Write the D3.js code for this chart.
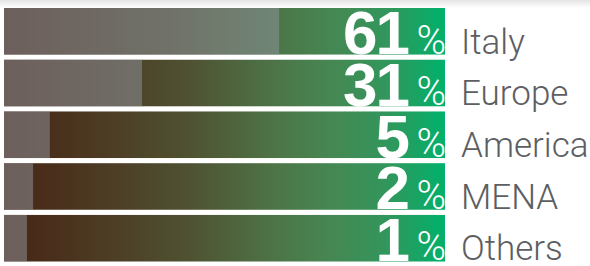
<!doctype html>
<html lang="en">
<head>
    <meta charset="utf-8">
    <title>Share by region</title>
    <style>
        html, body {
            margin: 0;
            padding: 0;
            background: #fff;
        }
        svg {
            display: block;
        }
    </style>
</head>
<body>
    <svg width="590" height="266"></svg>

    <script src="https://d3js.org/d3.v7.min.js"></script>
    <script>
        // data
        var regions = ["Italy", "Europe", "America", "MENA", "Others"];
        var share = [61, 31, 5, 2, 1];
        // grey overlay length, in % of the full bar
        var greyShare = [62.4, 31.3, 10.4, 6.6, 5.2];

        var svg = d3.select("svg"),
            width = +svg.attr("width"),
            height = +svg.attr("height");

        var x = d3.scaleLinear().domain([0, 100]).range([4, 445]);
        var y = d3.scaleBand().domain(regions).range([8, 261.5]).paddingInner(0.1);

        var defs = svg.append("defs");

        var grad = defs.append("linearGradient")
            .attr("id", "barGrad")
            .attr("gradientUnits", "userSpaceOnUse")
            .attr("x1", x(0)).attr("x2", x(100))
            .attr("y1", 0).attr("y2", 0);
        [
            [0, "#472414"],
            [0.25, "#4d3e25"],
            [0.42, "#4f5232"],
            [0.62, "#4d7548"],
            [0.75, "#458853"],
            [0.88, "#2f985d"],
            [1, "#00b16b"]
        ].forEach(function(s) {
            grad.append("stop").attr("offset", s[0]).attr("stop-color", s[1]);
        });

        var shade = defs.append("linearGradient")
            .attr("id", "topShade")
            .attr("x1", 0).attr("x2", 0).attr("y1", 0).attr("y2", 1);
        shade.append("stop").attr("offset", 0).attr("stop-color", "#e4e4e4");
        shade.append("stop").attr("offset", 1).attr("stop-color", "#ffffff");

        // faint shadow along the top edge
        svg.append("rect")
            .attr("x", 0).attr("y", 0)
            .attr("width", width).attr("height", 8)
            .attr("fill", "url(#topShade)");

        var row = svg.selectAll("g.row")
            .data(regions)
            .enter().append("g")
            .attr("class", "row")
            .attr("transform", function(d) { return "translate(0," + y(d) + ")"; });

        row.append("rect")
            .attr("x", x(0))
            .attr("width", x(100) - x(0))
            .attr("height", y.bandwidth())
            .attr("fill", "url(#barGrad)");

        row.append("rect")
            .attr("x", x(0))
            .attr("width", function(d, i) { return x(greyShare[i]) - x(0); })
            .attr("height", y.bandwidth())
            .attr("fill", "rgb(143,149,160)")
            .attr("fill-opacity", 0.52);

        row.append("text")
            .attr("x", 408)
            .attr("y", y.bandwidth() - 0.5)
            .attr("text-anchor", "end")
            .attr("fill", "#fff")
            .style("font-family", "'Liberation Sans', Arial, sans-serif")
            .style("font-weight", "bold")
            .style("font-size", "62px")
            .style("letter-spacing", "-2px")
            .text(function(d, i) { return share[i]; });

        row.append("text")
            .attr("x", 446)
            .attr("y", y.bandwidth() - 1)
            .attr("text-anchor", "end")
            .attr("fill", "#fff")
            .style("font-family", "Roboto, sans-serif")
            .style("font-weight", 300)
            .style("font-size", "40px")
            .text("%");

        row.append("text")
            .attr("x", 461)
            .attr("y", y.bandwidth() - 1)
            .attr("fill", "#5c5e62")
            .style("font-family", "Roboto, sans-serif")
            .style("font-weight", 300)
            .style("font-size", "35px")
            .text(function(d) { return d; });
    </script>
</body>
</html>
